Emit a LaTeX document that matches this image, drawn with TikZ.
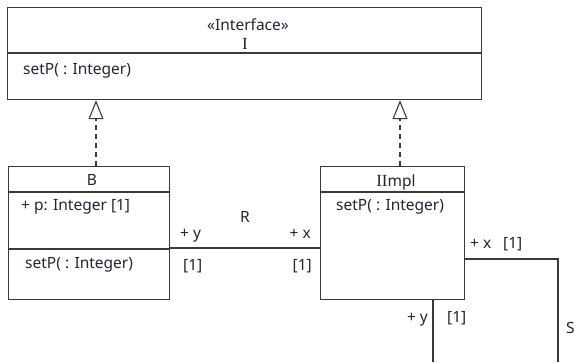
\documentclass[tikz,border=0pt]{standalone}
\usepackage{fontspec}
\setmainfont{Noto Sans}
\newfontfamily\serifI{Liberation Serif}
\newcommand{\capI}{{\serifI\fontsize{17}{19}\selectfont I}}
\usetikzlibrary{arrows.meta,calc}
\definecolor{ink}{HTML}{262238}
\definecolor{edge}{HTML}{3A3A3A}
\tikzset{
  umlbox/.style={draw=edge,line width=1.2pt,minimum width=#1,inner sep=0pt,anchor=north west},
  lbl/.style={text=ink,font=\fontsize{15.5}{18}\selectfont,inner sep=0pt,text height=11pt,text depth=0pt},
  realize/.style={draw=edge,line width=1.1pt,dash pattern=on 5pt off 4pt,-{Triangle[open,length=19pt,width=15pt,line width=1.1pt]}},
  assoc/.style={draw=edge,line width=1.1pt}
}
\begin{document}
\begin{tikzpicture}[x=1pt,y=-1pt]
\useasboundingbox (0,0) rectangle (575,362);
% Interface I
\node[umlbox=474pt,minimum height=92pt] (i) at (7,7) {};
\draw[edge,line width=1.1pt] (i.north west)++(0,46) coordinate (id) -- (id -| i.east);
\node[lbl] (ist) at (248,25) {«Interface»};
\node[lbl] (iname) at (245,44) {\capI};
\node[lbl,anchor=west] (iop) at (23,69) {setP( : Integer)};
% B
\node[umlbox=161pt,minimum height=133pt] (b) at (8,166) {};
\draw[edge,line width=1.1pt] (b.north west)++(0,26) coordinate (bd1) -- (bd1 -| b.east);
\draw[edge,line width=1.1pt] (b.north west)++(0,83) coordinate (bd2) -- (bd2 -| b.east);
\node[lbl] (bname) at (92,180) {B};
\node[lbl,anchor=west] (battr) at (21,205) {+ p: Integer [1]};
\node[lbl,anchor=west] (bop) at (25,263) {setP( : Integer)};
% IImpl
\node[umlbox=144pt,minimum height=133pt] (ii) at (320,166) {};
\draw[edge,line width=1.1pt] (ii.north west)++(0,26) coordinate (iid) -- (iid -| ii.east);
\node[lbl] (iiname) at (396,181) {\capI\capI mpl};
\node[lbl,anchor=west] (iiop) at (336,205) {setP( : Integer)};
% realizations
\coordinate (rb) at (96,166);
\coordinate (rii) at (400,166);
\draw[realize] (rb) -- (rb |- i.south);
\draw[realize] (rii) -- (rii |- i.south);
% association R
\coordinate (ra) at ($(b.north east)+(0,82)$);
\coordinate (rz) at (ra -| ii.west);
\draw[assoc] (ra) -- (rz);
\node[lbl] (rname) at (245,217) {R};
\node[lbl,anchor=west] (ry) at (180,233) {+ y};
\node[lbl,anchor=west] (rym) at (183,265) {[1]};
\node[lbl,anchor=east] (rx) at (311,233) {+ x};
\node[lbl,anchor=east] (rxm) at (312,265) {[1]};
% self association S
\coordinate (sa) at ($(ii.north east)+(0,93)$);
\coordinate (sc) at (558,259);
\coordinate (sd) at (558,362);
\coordinate (se) at (433,299);
\coordinate (sf) at (433,362);
\draw[assoc] (sa) -- (sc) -- (sd);
\draw[assoc] (se) -- (sf);
\node[lbl,anchor=west] (sx) at (470,243) {+ x};
\node[lbl,anchor=west] (sxm) at (503,243) {[1]};
\node[lbl,anchor=east] (sy) at (428,317) {+ y};
\node[lbl,anchor=west] (sym) at (447,317) {[1]};
\node[lbl,anchor=west] (sname) at (566,328) {S};
\end{tikzpicture}
\end{document}
